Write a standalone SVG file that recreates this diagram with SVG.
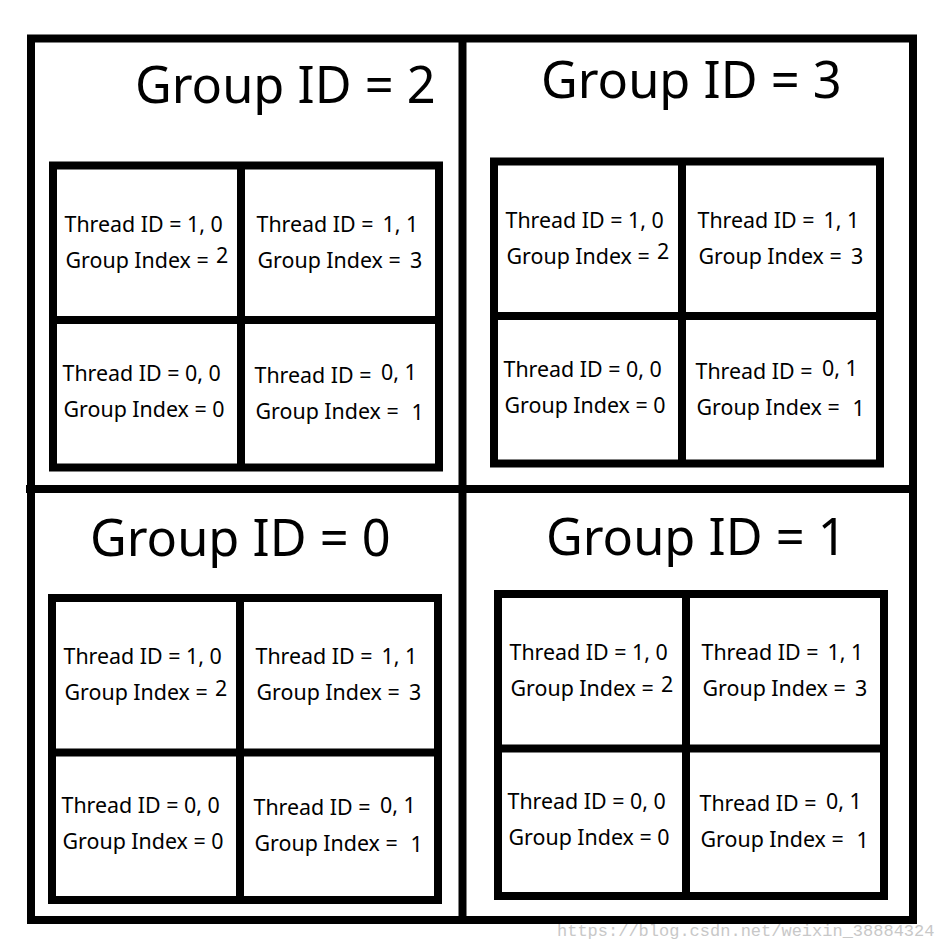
<svg xmlns="http://www.w3.org/2000/svg" width="938" height="950" viewBox="0 0 938 950">
<style>
.frame{fill:none;stroke:#000;stroke-width:8}
.grid{fill:#fff;stroke:#000;stroke-width:8}
.div{stroke:#000;stroke-width:8}
.title{font-family:"Noto Sans","Open Sans",sans-serif;font-size:50.5px;fill:#000}
.t{font-family:"Noto Sans","Open Sans",sans-serif;font-size:21.4px;fill:#000}
.wm{font-family:"Liberation Mono",monospace;font-size:17px;fill:#c8c8c8}
</style>
<defs>
<g id="cells">
<rect class="grid" x="0" y="0" width="386" height="302"/>
<line class="div" x1="188" y1="0" x2="188" y2="302"/>
<line class="div" x1="0" y1="154.5" x2="386" y2="154.5"/>
<g id="c10"><text class="t" x="11.5" y="66">Thread ID = 1, 0</text><text class="t" x="12.5" y="102">Group Index = </text><text class="t" x="163" y="97.5">2</text></g>
<g id="c11"><text class="t" x="203.5" y="66">Thread ID = </text><text class="t" x="329.5" y="66">1, 1</text><text class="t" x="204.5" y="102">Group Index = </text><text class="t" x="357" y="102">3</text></g>
<g id="c00"><text class="t" x="9.5" y="215">Thread ID = 0, 0</text><text class="t" x="10.5" y="251">Group Index = 0</text></g>
<g id="c01"><text class="t" x="201.5" y="217">Thread ID = </text><text class="t" x="328" y="214.5">0, 1</text><text class="t" x="202.5" y="253">Group Index = </text><text class="t" x="358.5" y="254">1</text></g>
</g>
</defs>
<rect width="938" height="950" fill="#fff"/>
<g id="frame">
<rect class="frame" x="31" y="38.5" width="882" height="881.5"/>
<line class="div" x1="462.5" y1="38.5" x2="462.5" y2="920"/>
<line class="div" x1="26" y1="489" x2="913" y2="489"/>
</g>
<g id="group2">
<text class="title" x="135" y="103">Group ID = 2</text>
<use href="#cells" transform="translate(53,165.5)"/>
</g>
<g id="group3">
<text class="title" x="541" y="98">Group ID = 3</text>
<use href="#cells" transform="translate(494,161.5)"/>
</g>
<g id="group0">
<text class="title" x="90" y="556">Group ID = 0</text>
<use href="#cells" transform="translate(52,598)"/>
</g>
<g id="group1">
<text class="title" x="546" y="555">Group ID = 1</text>
<use href="#cells" transform="translate(498,594)"/>
</g>
<g id="connectors"/>
<text class="wm" x="557" y="936">https://blog.csdn.net/weixin_38884324</text>
</svg>
